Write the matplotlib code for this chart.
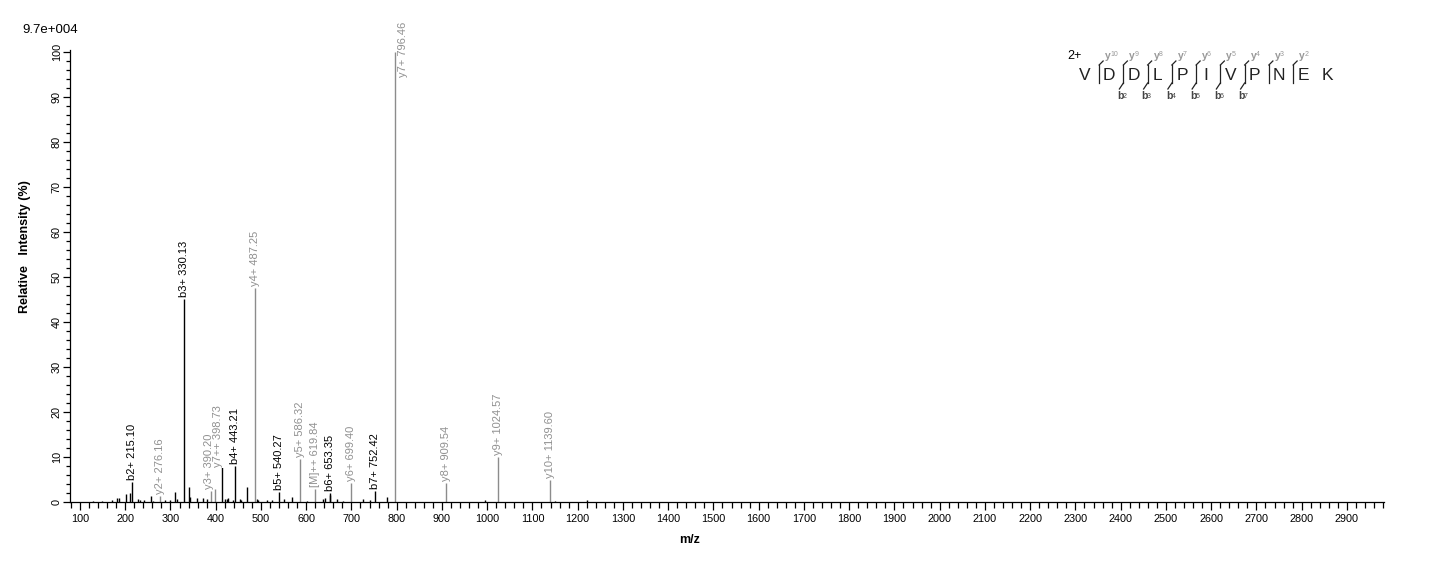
import matplotlib
matplotlib.use("Agg")
import matplotlib.pyplot as plt
from matplotlib.ticker import MultipleLocator

plt.rcParams['font.family'] = ['Liberation Sans', 'DejaVu Sans']

# annotated fragment ions
ion_mz = [215.10, 276.16, 330.13, 390.20, 398.73, 443.21, 487.25, 540.27, 586.32,
          619.84, 653.35, 699.40, 752.42, 796.46, 909.54, 1024.57, 1139.60]
ion_int = [4.5, 1.3, 45.2, 2.4, 2.8, 8.0, 47.6, 2.2, 9.6,
           2.8, 2.1, 4.2, 2.5, 100.0, 4.2, 9.9, 4.9]
ion_lab = ['b2+ 215.10', 'y2+ 276.16', 'b3+ 330.13', 'y3+ 390.20', 'y7++ 398.73',
           'b4+ 443.21', 'y4+ 487.25', 'b5+ 540.27', 'y5+ 586.32', '[M]++ 619.84',
           'b6+ 653.35', 'y6+ 699.40', 'b7+ 752.42', 'y7+ 796.46', 'y8+ 909.54',
           'y9+ 1024.57', 'y10+ 1139.60']
ion_kind = ['b', 'y', 'b', 'y', 'y', 'b', 'y', 'b', 'y', 'y', 'b', 'y', 'b', 'y', 'y', 'y', 'y']

# unannotated peaks
other_mz = [129.5, 148.0, 170.0, 182.5, 187.0, 201.0, 210.5, 228.0, 232.6, 241.5,
            257.0, 262.0, 288.0, 299.0, 310.0, 313.7, 341.6, 343.8, 359.0, 372.5,
            380.0, 414.5, 420.5, 424.0, 428.0, 439.0, 453.6, 457.0, 470.0, 490.5,
            494.0, 512.6, 523.6, 551.0, 568.0, 601.0, 637.8, 641.6, 651.9, 668.8,
            682.0, 724.8, 741.0, 779.3, 995.0, 1150.0, 1220.0]
other_int = [0.2, 0.2, 0.5, 1.0, 0.9, 1.8, 2.0, 0.7, 0.4, 0.5,
             1.3, 0.3, 0.4, 0.4, 2.3, 0.6, 3.3, 1.2, 0.9, 0.9,
             0.6, 8.0, 0.6, 0.6, 1.0, 0.5, 0.7, 0.5, 3.3, 0.6,
             0.4, 0.5, 0.5, 0.6, 1.2, 0.3, 0.6, 1.0, 1.5, 0.6,
             0.3, 0.7, 0.4, 1.1, 0.4, 0.3, 0.4]

sequence = "VDDLPIVPNEK"
y_cuts = [1, 2, 3, 4, 5, 6, 7, 8, 9]
b_cuts = [2, 3, 4, 5, 6, 7]

W, H = 1436, 562
fig = plt.figure(figsize=(W / 100, H / 100), dpi=100)
ax = fig.add_axes([70 / W, 1 - 502 / H, (1384 - 70) / W, (502 - 50) / H])

colors = {'b': 'black', 'y': '#8c8c8c'}
txtcolors = {'b': 'black', 'y': '#909090'}

ax.vlines(other_mz, 0, other_int, color='black', lw=1)
for mz, it, lab, k in zip(ion_mz, ion_int, ion_lab, ion_kind):
    ax.vlines(mz, 0, it, color=colors[k], lw=1)
    if lab.startswith('y7+ '):
        off = (8, -25)
    elif lab.startswith('y7++'):
        off = (3, 22)
    elif lab.startswith('y3+'):
        off = (-2, 2)
    else:
        off = (0, 2)
    bbox = dict(fc='white', ec='none', pad=0.5) if lab.startswith('y7++') else None
    ax.annotate(lab, xy=(mz, it), xytext=off, textcoords='offset pixels',
                rotation=90, ha='center', va='bottom', fontsize=8,
                color=txtcolors[k], bbox=bbox, annotation_clip=False)

ax.set_xlim(78, 2982)
ax.set_ylim(0, 100.5)
for s in ['top', 'right']:
    ax.spines[s].set_visible(False)
ax.spines['left'].set_linewidth(0.9)
ax.spines['bottom'].set_linewidth(0.9)
ax.xaxis.set_major_locator(MultipleLocator(100))
ax.xaxis.set_minor_locator(MultipleLocator(20))
ax.yaxis.set_major_locator(MultipleLocator(10))
ax.yaxis.set_minor_locator(MultipleLocator(2))
ax.tick_params(axis='x', which='major', length=6, width=0.9, labelsize=7.8, pad=3)
ax.tick_params(axis='x', which='minor', length=4, width=0.9)
ax.tick_params(axis='y', which='major', length=5, width=0.9, labelsize=7.8, pad=1)
ax.tick_params(axis='y', which='minor', length=3, width=0.9)
for t in ax.get_yticklabels():
    t.set_rotation(90)
    t.set_va('center')

fig.text(22 / W, 1 - 30 / H, '9.7e+004', fontsize=9.5, va='center', ha='left')
fig.text(25 / W, 1 - 247 / H, 'Relative   Intensity (%)', rotation=90, fontsize=9,
         fontweight='bold', ha='center', va='center')
fig.text(690 / W, 1 - 540 / H, 'm/z', fontsize=9, fontweight='bold', ha='center', va='center')

# peptide fragmentation map, drawn in pixel units
pa = fig.add_axes([1060 / W, 1 - 110 / H, 300 / W, 95 / H])
pa.set_xlim(1060, 1360)
pa.set_ylim(110, 15)
pa.axis('off')
x0, step = 1085, 24.25
pa.text(1067, 56, '2+', fontsize=9, ha='left', va='center')
for i, aa in enumerate(sequence):
    pa.text(x0 + i * step, 75, aa, fontsize=12.5, ha='center', va='center', color='#222222')
for c in y_cuts:
    bx = x0 + (c - 0.5) * step + 2
    pa.plot([bx, bx], [65, 83], color='#222222', lw=0.9)
    pa.plot([bx, bx + 4], [65, 61], color='#222222', lw=0.9)
    n = len(sequence) - c
    pa.text(bx + 6, 56, 'y', fontsize=7.5, color='#999999', ha='left', va='center', fontweight='bold')
    pa.text(bx + 11, 55, str(n), fontsize=5, color='#999999', ha='left', va='center')
for c in b_cuts:
    bx = x0 + (c - 0.5) * step + 2
    pa.plot([bx, bx - 4], [83, 89], color='#222222', lw=0.9)
    pa.text(bx - 6, 96, 'b', fontsize=7.5, color='#444444', ha='left', va='center', fontweight='bold')
    pa.text(bx - 0.5, 96, str(c), fontsize=5, color='#444444', ha='left', va='center')

fig.savefig('out.png', dpi=100)
